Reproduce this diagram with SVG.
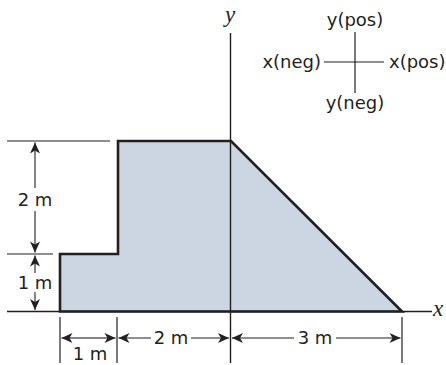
<svg xmlns="http://www.w3.org/2000/svg" width="446" height="365" viewBox="0 0 446 365">
<style>
.ln{stroke:#231f20;stroke-width:1.2;fill:none}
.ax{stroke:#231f20;stroke-width:1.4;fill:none}
.dim{stroke:#231f20;stroke-width:1.1;fill:none;marker-end:url(#ah)}
.t{font-family:"DejaVu Sans",sans-serif;font-size:18px;fill:#231f20;text-anchor:middle}
.lg{font-family:"DejaVu Sans",sans-serif;font-size:18px;fill:#231f20}
.it{font-family:"Liberation Serif",serif;font-style:italic;font-size:23px;fill:#231f20}
</style>
<defs>
<marker id="ah" markerUnits="userSpaceOnUse" markerWidth="14" markerHeight="12" viewBox="-12 -6 13 12" refX="0" refY="0" orient="auto">
<path d="M0,0 L-11,-5 L-8,0 L-11,5 Z" fill="#231f20"/>
</marker>
</defs>
<rect width="446" height="365" fill="#fff"/>
<g id="shape-fill">
<polygon points="60,311.5 60,254 118,254 118,141 231,141 402,311.5" fill="#ccd6e2"/>
</g>
<g id="axes">
<line class="ax" x1="7" y1="311.5" x2="432" y2="311.5"/>
<line class="ax" x1="230.5" y1="33" x2="230.5" y2="363"/>
<text class="it" x="433" y="316">x</text>
<text class="it" x="225" y="22">y</text>
</g>
<g id="shape">
<polygon points="60,311.5 60,254 118,254 118,141 231,141 402,311.5" fill="none" stroke="#231f20" stroke-width="2.6" stroke-linejoin="miter"/>
</g>
<g id="extension-lines">
<line class="ln" x1="7" y1="141" x2="110" y2="141"/>
<line class="ln" x1="7" y1="254" x2="53" y2="254"/>
<line class="ln" x1="60" y1="317" x2="60" y2="363"/>
<line class="ln" x1="117" y1="317" x2="117" y2="363"/>
<line class="ln" x1="402" y1="317" x2="402" y2="363"/>
</g>
<g id="connectors">
<line class="dim" x1="35" y1="188" x2="35" y2="142.5"/>
<line class="dim" x1="35" y1="211" x2="35" y2="252.5"/>
<line class="dim" x1="35" y1="273" x2="35" y2="255.5"/>
<line class="dim" x1="35" y1="292" x2="35" y2="310"/>
<line class="dim" x1="89" y1="338" x2="61.5" y2="338"/>
<line class="dim" x1="89" y1="338" x2="115.5" y2="338"/>
<line class="dim" x1="151" y1="338" x2="118.5" y2="338"/>
<line class="dim" x1="191" y1="338" x2="229" y2="338"/>
<line class="dim" x1="294" y1="338" x2="232" y2="338"/>
<line class="dim" x1="336" y1="338" x2="400.5" y2="338"/>
</g>
<g id="labels">
<text class="t" x="35" y="206">2 m</text>
<text class="t" x="35" y="289">1 m</text>
<text class="t" x="90" y="360">1 m</text>
<text class="t" x="171" y="344">2 m</text>
<text class="t" x="315" y="344">3 m</text>
</g>
<g id="legend">
<line class="ln" x1="355" y1="32" x2="355" y2="93"/>
<line class="ln" x1="324" y1="62" x2="384" y2="62"/>
<text class="lg" x="355" y="26" text-anchor="middle">y(pos)</text>
<text class="lg" x="355" y="109" text-anchor="middle">y(neg)</text>
<text class="lg" x="321" y="68" text-anchor="end">x(neg)</text>
<text class="lg" x="389" y="68">x(pos)</text>
</g>
</svg>
